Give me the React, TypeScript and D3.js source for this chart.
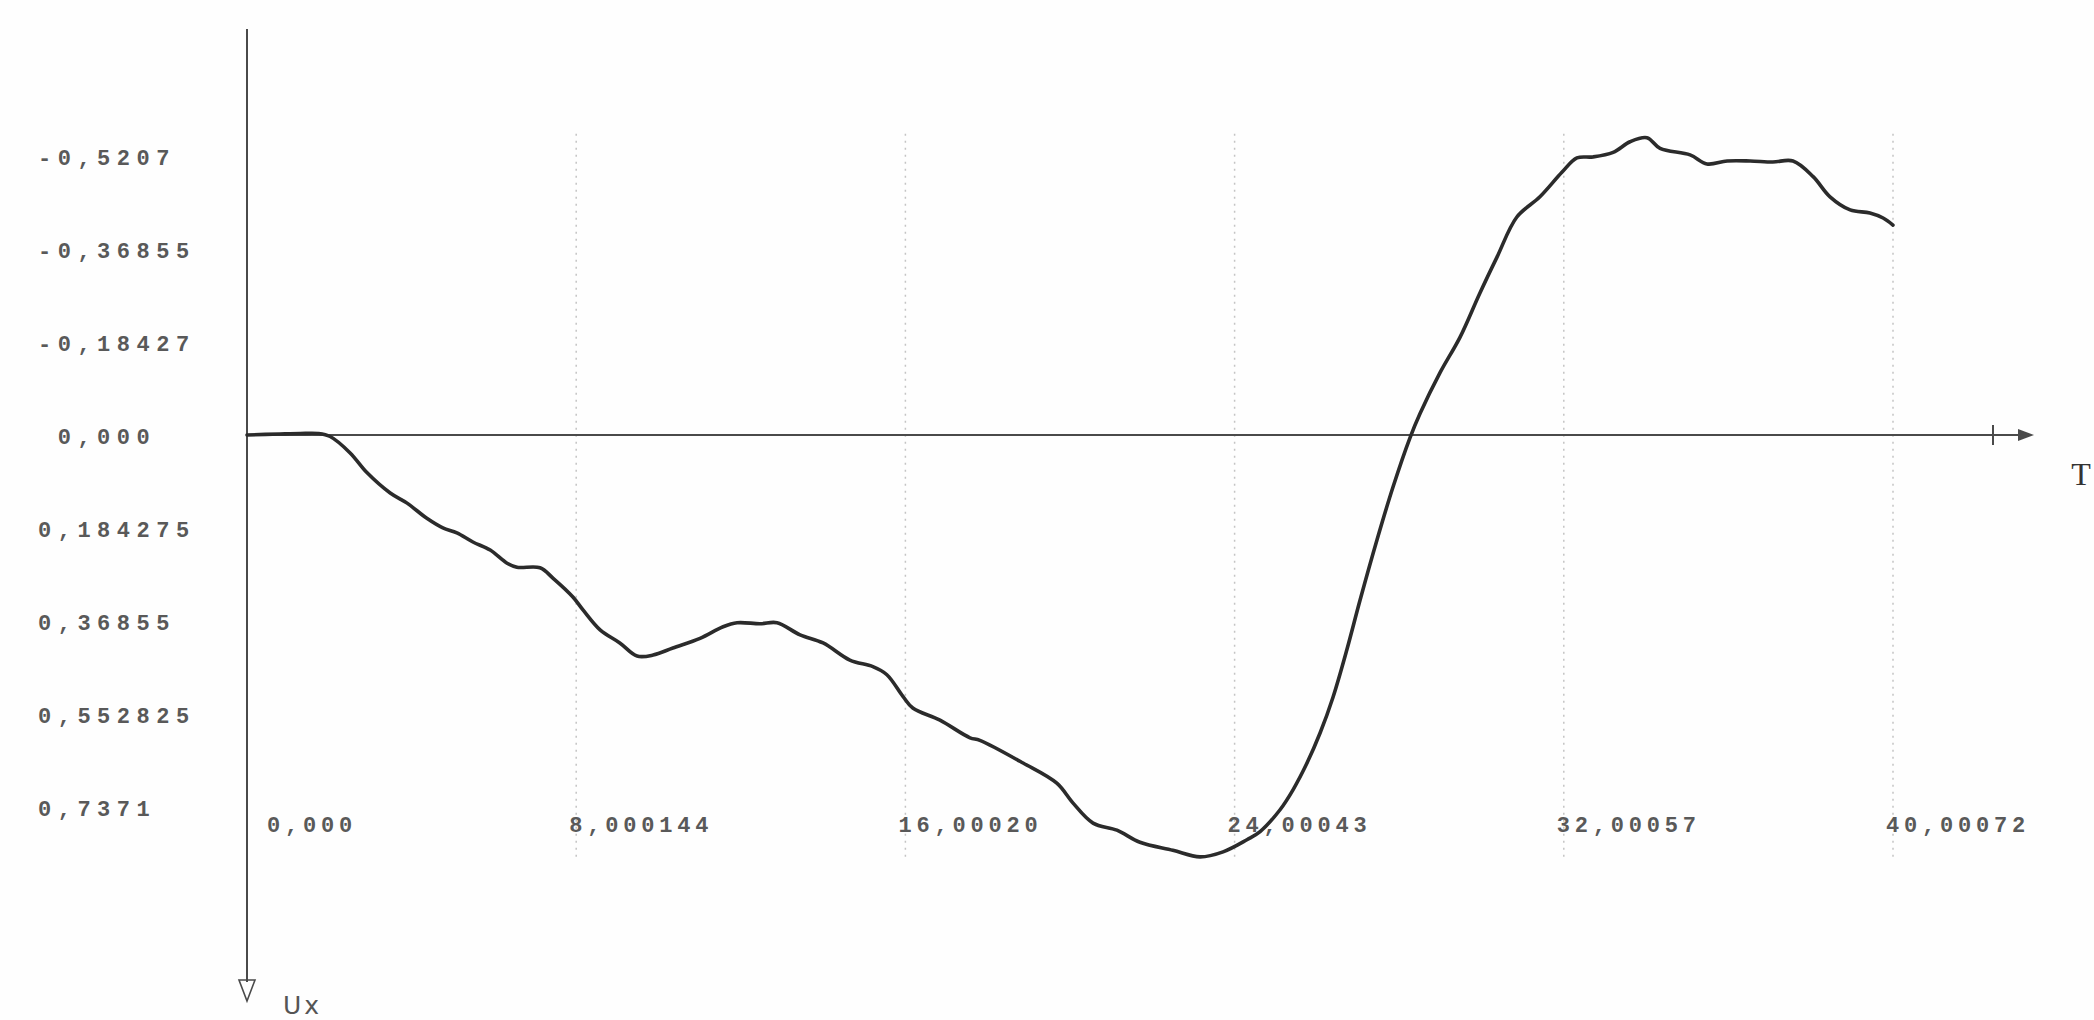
import { useMemo } from 'react';
import * as d3 from 'd3';

// time
const times = [
  0, 0.8, 1.29, 1.73, 2.02, 2.5, 2.92, 3.48, 3.89, 4.37, 4.76, 5.1, 5.49, 5.91,
  6.32, 6.56, 7.12, 7.44, 7.92, 8.17, 8.58, 9.06, 9.48, 9.87, 10.35, 11.01,
  11.57, 11.91, 12.47, 12.88, 13.44, 14.0, 14.65, 15.21, 15.55, 15.94, 16.18,
  16.84, 17.57, 17.81, 18.86, 19.68, 20.07, 20.56, 21.14, 21.7, 22.5, 23.16,
  23.72, 24.3, 24.62, 25.1, 25.42, 25.76, 26.08, 26.39, 26.73, 27.05, 27.46,
  27.85, 28.26, 28.51, 28.99, 29.48, 29.96, 30.38, 30.86, 31.42, 31.96, 32.32,
  32.71, 33.2, 33.61, 34.02, 34.34, 35.07, 35.48, 35.97, 36.53, 37.08, 37.57,
  38.06, 38.47, 38.96, 39.44, 39.76, 40.0,
];

// Ux values (axis points down: positive values below zero)
const voltages = [
  0, -0.002, -0.003, -0.003, 0.003, 0.035, 0.075, 0.115, 0.135, 0.165, 0.184,
  0.194, 0.212, 0.228, 0.254, 0.262, 0.263, 0.284, 0.321, 0.347, 0.386, 0.412,
  0.438, 0.436, 0.422, 0.403, 0.38, 0.372, 0.374, 0.372, 0.396, 0.412, 0.446,
  0.459, 0.475, 0.518, 0.541, 0.565, 0.6, 0.605, 0.65, 0.69, 0.729, 0.769,
  0.783, 0.807, 0.823, 0.836, 0.826, 0.802, 0.786, 0.743, 0.703, 0.65, 0.59,
  0.52, 0.425, 0.327, 0.208, 0.103, 0.006, -0.043, -0.123, -0.194, -0.281,
  -0.353, -0.432, -0.472, -0.521, -0.549, -0.551, -0.56, -0.581, -0.589,
  -0.568, -0.555, -0.537, -0.543, -0.543, -0.541, -0.543, -0.512, -0.472,
  -0.446, -0.44, -0.43, -0.416,
];

const xTickValues = [0, 8.000144, 16.0002, 24.00043, 32.00057, 40.00072];
const xTickLabels = ['0,000', '8,000144', '16,00020', '24,00043', '32,00057', '40,00072'];

// labels sit on equal steps of 0.184275
const yTickValues = [-0.552825, -0.36855, -0.18427, 0, 0.184275, 0.36855, 0.552825, 0.7371];
const yTickLabels = ['-0,5207', '-0,36855', '-0,18427', ' 0,000', '0,184275', '0,36855', '0,552825', '0,7371'];

const width = 2094;
const height = 1020;

export default function App() {
  const x = d3.scaleLinear().domain([0, 40.00072]).range([247, 1893]);
  const y = d3.scaleLinear().domain([-0.552825, 0.7371]).range([156, 807]);

  const path = useMemo(() => {
    const pts: [number, number][] = times.map((t, i) => [t, voltages[i]]);
    return d3
      .line<[number, number]>()
      .x((d) => x(d[0]))
      .y((d) => y(d[1]))
      .curve(d3.curveCatmullRom.alpha(0.5))(pts);
  }, []);

  const x0 = x(0);
  const y0 = y(0);
  const gridTop = y(d3.min(voltages) ?? 0) - 4;
  const gridBottom = y(d3.max(voltages) ?? 0) + 4;

  const yLabelFont = {
    fontFamily: '"Liberation Mono", monospace',
    fontWeight: 700,
    fontSize: 22,
    letterSpacing: 6.5,
    fill: '#595959',
    whiteSpace: 'pre' as const,
  };

  const xLabelFont = {
    fontFamily: '"Liberation Mono", monospace',
    fontWeight: 700,
    fontSize: 22,
    letterSpacing: 4.8,
    fill: '#595959',
  };

  return (
    <svg
      width={width}
      height={height}
      viewBox={`0 0 ${width} ${height}`}
      style={{ position: 'absolute', left: 0, top: 0, background: '#fefefe' }}
    >
      {/* dotted vertical grid */}
      {xTickValues.slice(1).map((v) => (
        <line
          key={'vg' + v}
          x1={x(v)}
          x2={x(v)}
          y1={gridTop}
          y2={gridBottom}
          stroke="#c4c4c4"
          strokeWidth={1.5}
          strokeDasharray="2,5"
        />
      ))}

      {/* y axis with hollow arrow */}
      <line x1={x0} x2={x0} y1={29} y2={982} stroke="#4a4a4a" strokeWidth={2} />
      <path
        d={`M${x0 - 8},${980} L${x0 + 8},${980} L${x0},${1001} Z`}
        fill="none"
        stroke="#4a4a4a"
        strokeWidth={1.6}
      />
      <text
        x={x0 + 36}
        y={1014}
        fontFamily='"DejaVu Sans", sans-serif'
        fontSize={25}
        fill="#555"
        letterSpacing={3}
      >
        Ux
      </text>

      {/* x axis (zero line) with arrow */}
      <line x1={x0} x2={2022} y1={y0} y2={y0} stroke="#4a4a4a" strokeWidth={2} />
      <line x1={1993} x2={1993} y1={y0 - 10} y2={y0 + 10} stroke="#4a4a4a" strokeWidth={2} />
      <path
        d={`M${2018},${y0 - 6} L${2034},${y0} L${2018},${y0 + 6} Z`}
        fill="#4a4a4a"
      />
      <text
        x={2081}
        y={485}
        textAnchor="middle"
        fontFamily='"Liberation Serif", serif'
        fontSize={32}
        fill="#333"
      >
        T
      </text>

      {/* y tick labels */}
      {yTickValues.map((v, i) => (
        <text
          key={'yl' + v}
          x={38}
          y={y(v) + 3}
          dominantBaseline="central"
          {...yLabelFont}
          xmlSpace="preserve"
        >
          {yTickLabels[i]}
        </text>
      ))}

      {/* x tick labels */}
      {xTickValues.map((v, i) => (
        <text
          key={'xl' + v}
          x={x(v) + 65}
          y={826}
          textAnchor="middle"
          dominantBaseline="central"
          {...xLabelFont}
        >
          {xTickLabels[i]}
        </text>
      ))}

      {/* signal */}
      <path
        d={path ?? ''}
        fill="none"
        stroke="#2b2b2b"
        strokeWidth={3.6}
        strokeLinejoin="round"
        strokeLinecap="round"
      />
    </svg>
  );
}
